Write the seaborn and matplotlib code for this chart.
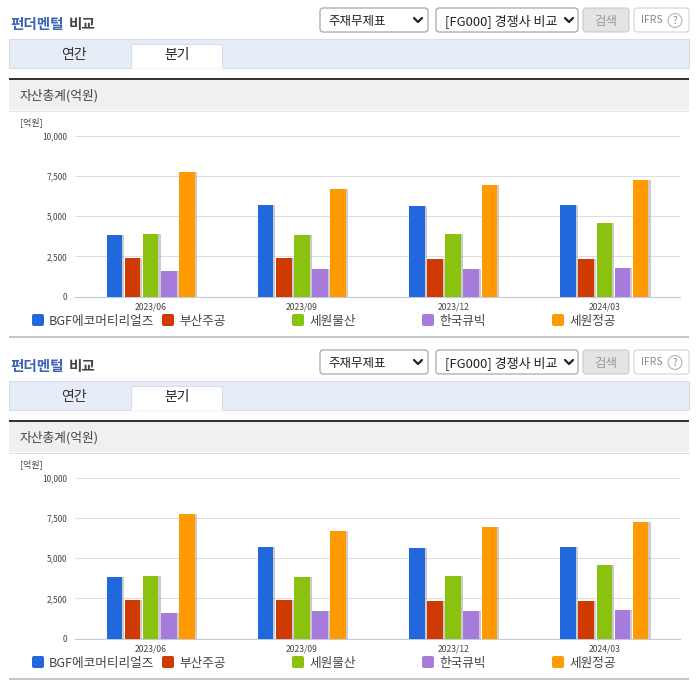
import pandas as pd
import seaborn as sns
import matplotlib.pyplot as plt
import matplotlib.patheffects as pe
from matplotlib.patches import Rectangle, FancyBboxPatch

quarters = ['2023/06', '2023/09', '2023/12', '2024/03']
companies = ['BGF에코머티리얼즈', '부산주공', '세원물산', '한국큐빅', '세원정공']
bgf = [3850, 5690, 5630, 5690]
busan = [2400, 2420, 2340, 2340]
sewon_ms = [3890, 3850, 3890, 4570]
cubic = [1590, 1710, 1710, 1780]
sewon_jg = [7780, 6680, 6930, 7230]
colors = ['#2168dc', '#cf3a02', '#8bc10f', '#a67bdb', '#ff9b00']
yticks = [0, 2500, 5000, 7500, 10000]

rows = []
for name, vals in zip(companies, [bgf, busan, sewon_ms, cubic, sewon_jg]):
    for q, v in zip(quarters, vals):
        rows.append({'quarter': q, 'company': name, 'value': v})
df = pd.DataFrame(rows)

W, H = 696, 684
sns.set_style('white')
plt.rcParams['font.family'] = ['Noto Sans CJK KR', 'DejaVu Sans']

fig = plt.figure(figsize=(W / 100, H / 100), dpi=100)

# page layer in pixel coordinates
bg = fig.add_axes([0, 0, 1, 1])
bg.set_xlim(0, W)
bg.set_ylim(H, 0)
bg.axis('off')


def box(x, y, w, h, fc, ec='none', lw=0.8):
    bg.add_patch(Rectangle((x, y), w, h, fc=fc, ec=ec, lw=lw))


def round_box(x, y, w, h, fc, ec):
    bg.add_patch(FancyBboxPatch((x + 2, y + 2), w - 4, h - 4, boxstyle='round,pad=2,rounding_size=3',
                                fc=fc, ec=ec, lw=0.7))


def chevron(x, y):
    bg.plot([x - 4, x, x + 4], [y - 2, y + 2, y - 2], color='#222222', lw=1.6)


def panel(dy):
    # header
    bg.text(10, 24 + dy, '펀더멘털', color='#3b62b5', fontsize=10.5, fontweight='bold', va='center')
    bg.text(69, 24 + dy, '비교', color='#444444', fontsize=10.5, fontweight='bold', va='center')
    round_box(320, 8 + dy, 108, 24, 'white', '#8f8f8f')
    bg.text(328, 21 + dy, '주재무제표', color='#222222', fontsize=9, va='center')
    chevron(418, 20 + dy)
    round_box(436, 8 + dy, 142, 24, 'white', '#8f8f8f')
    bg.text(445, 21 + dy, '[FG000] 경쟁사 비교', color='#222222', fontsize=9.4, va='center')
    chevron(569, 20 + dy)
    round_box(583, 8 + dy, 46, 24, '#e4e4e4', '#c4c4c4')
    bg.text(606, 21 + dy, '검색', color='#999999', fontsize=9, ha='center', va='center')
    round_box(634, 8 + dy, 55, 24, 'white', '#cccccc')
    bg.text(641, 20 + dy, 'IFRS', color='#888888', fontsize=7.5, va='center')
    bg.text(675, 20.5 + dy, '?', color='#888888', fontsize=7, ha='center', va='center',
            bbox=dict(boxstyle='circle,pad=0.2', fc='white', ec='#aaaaaa', lw=0.7))

    # tabs
    box(9, 38.5 + dy, 680, 29, '#e6edf7', '#d5dde8')
    box(131, 43.5 + dy, 91, 24.5, 'white', '#d5dde8')
    bg.plot([131.5, 221.5], [68 + dy, 68 + dy], color='white', lw=1.2)
    bg.text(74, 55 + dy, '연간', color='#333333', fontsize=10, ha='center', va='center')
    bg.text(177, 55.5 + dy, '분기', color='#222222', fontsize=10, ha='center', va='center')

    # chart title band
    box(9, 80 + dy, 680, 30, '#f0f0f0')
    box(9, 78 + dy, 680, 2, '#333333')
    bg.plot([9, 689], [110.5 + dy, 110.5 + dy], color='#e2e2e2', lw=0.8)
    bg.text(20, 96 + dy, '자산총계(억원)', color='#444444', fontsize=9.2, va='center')
    bg.text(20, 122.5 + dy, '[억원]', color='#444444', fontsize=6.5, va='center')

    # bars
    left, right = 75, 680
    top, bottom = 136 + dy, 296.5 + dy
    ax = fig.add_axes([left / W, 1 - bottom / H, (right - left) / W, (bottom - top) / H])
    ax.patch.set_alpha(0)
    sns.barplot(data=df, x='quarter', y='value', hue='company', order=quarters, hue_order=companies,
                palette=colors, saturation=1, width=0.6, gap=0.14, linewidth=0, legend=False, ax=ax, zorder=3)
    for bar in ax.patches:
        bar.set_path_effects([pe.SimplePatchShadow(offset=(1.5, 0), shadow_rgbFace='#9a9a9a', alpha=0.5),
                              pe.Normal()])
    ax.set_xlim(-0.5, 3.5)
    ax.set_ylim(0, 10000)
    ax.set_xlabel('')
    ax.set_ylabel('')
    ax.set_yticks(yticks)
    ax.set_yticklabels([f'{t:,}' for t in yticks], fontsize=6, color='#444444')
    ax.set_xticks(range(len(quarters)))
    ax.set_xticklabels(quarters, fontsize=6.2, color='#444444')
    ax.set_xticks([-0.5, 0.5, 1.5, 2.5, 3.5], minor=True)
    ax.tick_params(axis='x', which='major', length=0, pad=4)
    ax.tick_params(axis='x', which='minor', length=4, width=0.7, color='#c0ccdc')
    ax.tick_params(axis='y', length=0, pad=5.5)
    ax.grid(axis='y', color='#dedede', lw=0.8, zorder=0)
    ax.set_axisbelow(True)
    for side in ['top', 'right', 'left']:
        ax.spines[side].set_visible(False)
    ax.spines['bottom'].set_color('#c0ccdc')
    ax.spines['bottom'].set_linewidth(0.8)

    # legend row
    for i, (name, c) in enumerate(zip(companies, colors)):
        x = 32 + 130 * i
        bg.add_patch(FancyBboxPatch((x + 1, 315 + dy), 10, 10, boxstyle='round,pad=1,rounding_size=2', fc=c, ec='none'))
        bg.text(x + 17, 321 + dy, name, color='#444444', fontsize=9.1, va='center')

    # bottom rule
    box(9, 335.5 + dy, 680, 2, '#c6c6c6')


panel(0)
panel(342)

plt.savefig('out.png', dpi=100)
